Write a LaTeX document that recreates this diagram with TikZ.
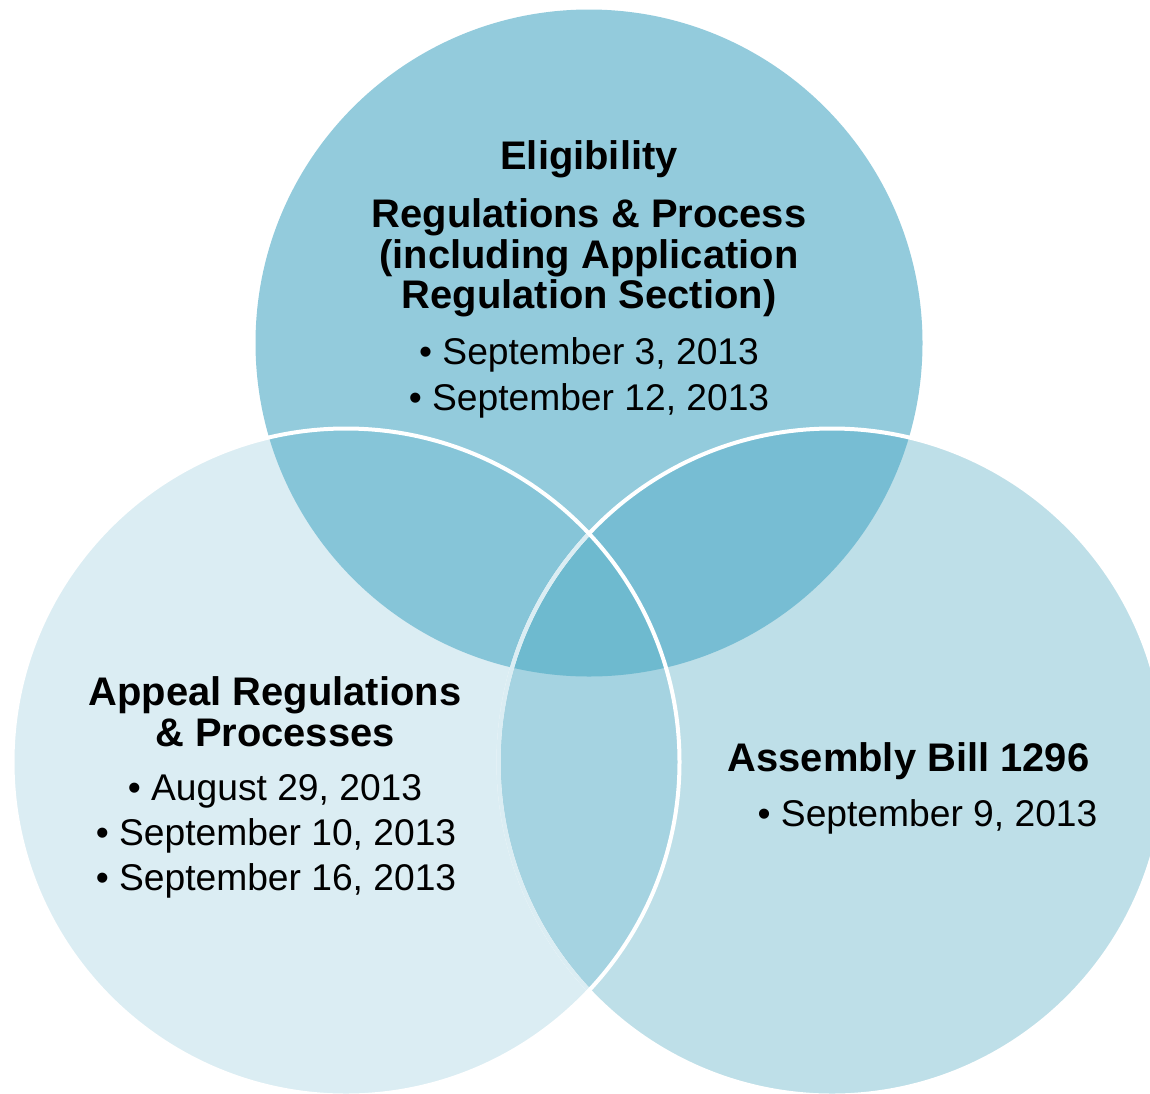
\documentclass[tikz,border=0pt]{standalone}
\usepackage{fontspec}
\setmainfont{Liberation Sans}
\definecolor{cT}{HTML}{93CBDC}
\definecolor{cL}{HTML}{DBEDF3}
\definecolor{cR}{HTML}{BEDFE8}
\definecolor{cTL}{HTML}{86C5D8}
\definecolor{cTR}{HTML}{77BDD3}
\definecolor{cLR}{HTML}{A5D3E1}
\definecolor{cC}{HTML}{6EBACF}
\begin{document}
\begin{tikzpicture}[x=1pt,y=-1pt,
  txt/.style={anchor=base,inner sep=0pt,font=\fontsize{37.2}{41}\selectfont},
  hd/.style={anchor=base,inner sep=0pt,font=\fontsize{39.9}{44}\selectfont\bfseries},
  rim/.style={line width=4pt}]
\useasboundingbox (0,0) rectangle (1150,1093);
\clip (0,0) rectangle (1150,1093);
\coordinate (ct) at (589,343);
\coordinate (cl) at (346,762);
\coordinate (cr) at (832,762);
\def\R{333.5pt}
% plain fills
\fill[cT] (ct) circle[radius=\R];
\fill[cL] (cl) circle[radius=\R];
\fill[cR] (cr) circle[radius=\R];
% top-left and top-right overlaps
\begin{scope}
  \clip (ct) circle[radius=\R];
  \fill[cTL] (cl) circle[radius=\R];
  \fill[cTR] (cr) circle[radius=\R];
\end{scope}
% left-right overlap
\begin{scope}
  \clip (cl) circle[radius=\R];
  \fill[cLR] (cr) circle[radius=\R];
\end{scope}
% centre
\begin{scope}
  \clip (ct) circle[radius=\R];
  \clip (cl) circle[radius=\R];
  \fill[cC] (cr) circle[radius=\R];
\end{scope}
% outlines
\draw[rim,white] (cr) circle[radius=\R];
\begin{scope}
  \clip (cl) circle[radius=\R];
  \draw[rim,cL] (cr) circle[radius=\R];
\end{scope}
\draw[rim,white] (cl) circle[radius=\R];
% texts: top circle
\node[hd] (t1) at (589,169) {Eligibility};
\node[hd] (t2) at (589,227) {Regulations \& Process};
\node[hd] (t3) at (589,268) {(including Application};
\node[hd] (t4) at (589,308.5) {Regulation Section)};
\node[txt] (t5) at (589,364.5) {• September 3, 2013};
\node[txt] (t6) at (589,410) {• September 12, 2013};
% left circle
\node[hd] (l1) at (275,705.5) {Appeal Regulations};
\node[hd] (l2) at (275,746) {\& Processes};
\node[txt] (l3) at (275,800) {• August 29, 2013};
\node[txt] (l4) at (276,845) {• September 10, 2013};
\node[txt] (l5) at (276,890) {• September 16, 2013};
% right circle
\node[hd] (r1) at (908.5,771.5) {Assembly Bill 1296};
\node[txt] (r2) at (927.5,826) {• September 9, 2013};
\end{tikzpicture}
\end{document}
